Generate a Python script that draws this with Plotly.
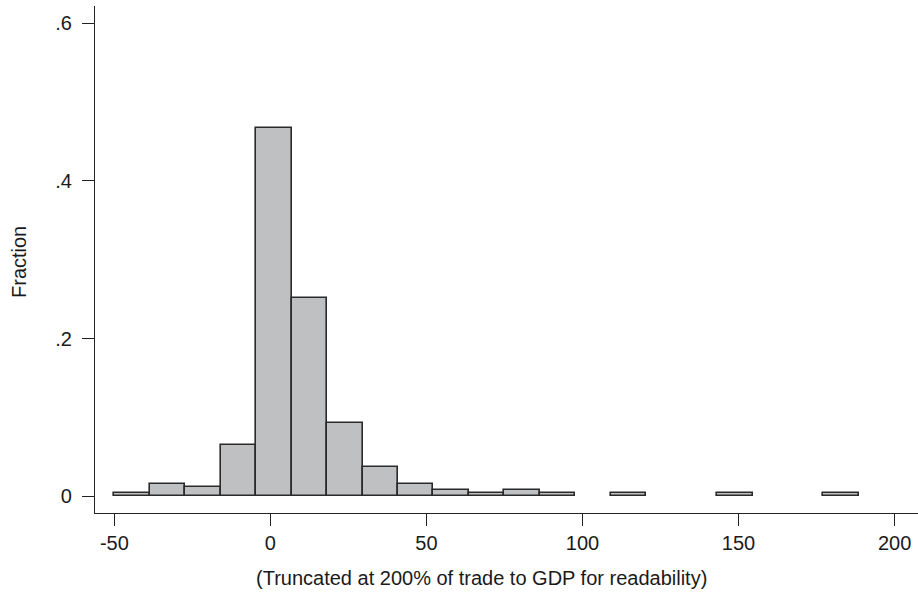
import plotly.graph_objects as go

# Histogram data (fraction per bin)
bin_start = -50.0
bin_width = 11.36
fractions = [0.004, 0.016, 0.012, 0.065, 0.467, 0.251, 0.093, 0.037, 0.016, 0.008,
             0.004, 0.008, 0.004, None, 0.004, None, None, 0.004, None, None, 0.004]

x_ticks = [-50, 0, 50, 100, 150, 200]
x_ticklabels = ["-50", "0", "50", "100", "150", "200"]
y_ticks = [0, 0.2, 0.4, 0.6]
y_ticklabels = ["0", ".2", ".4", ".6"]

x_title = "(Truncated at 200% of trade to GDP for readability)"
y_title = "Fraction"

centers = [bin_start + bin_width * (i + 0.5) for i in range(len(fractions))]

FONT = "Liberation Sans, Arial, Helvetica, sans-serif"
TXT = "#1a1a1a"
LINE = "#222222"

fig = go.Figure()
fig.add_trace(go.Bar(
    x=centers, y=fractions, width=bin_width,
    marker=dict(color="#bfc0c2", line=dict(color="#2a2a2a", width=1.6)),
    showlegend=False, hoverinfo="skip",
))

fig.update_layout(
    width=918, height=596,
    margin=dict(l=95, r=0, t=6, b=83),
    paper_bgcolor="white", plot_bgcolor="white",
    font=dict(family=FONT, size=20, color=TXT),
    bargap=0,
    xaxis=dict(
        range=[-56.2, 207.5], showgrid=False, zeroline=False,
        showline=True, linecolor=LINE, linewidth=1.3,
        ticks="outside", ticklen=12, tickwidth=1.3, tickcolor=LINE,
        tickvals=x_ticks, ticktext=x_ticklabels,
        tickfont=dict(family=FONT, size=20, color=TXT),
    ),
    yaxis=dict(
        range=[-0.0213, 0.622], showgrid=False, zeroline=False,
        showline=True, linecolor=LINE, linewidth=1.3,
        ticks="outside", ticklen=12, tickwidth=1.3, tickcolor=LINE,
        tickvals=y_ticks, ticktext=y_ticklabels,
        tickfont=dict(family=FONT, size=20, color=TXT),
        ticklabelstandoff=6,
    ),
    annotations=[
        dict(text=x_title, xref="paper", yref="paper", x=(481 - 95) / 823, y=-(578 - 513) / 507,
             showarrow=False, xanchor="center", yanchor="middle",
             font=dict(family=FONT, size=20, color=TXT)),
        dict(text=y_title, xref="paper", yref="paper", x=-(95 - 19) / 823, y=(513 - 262) / 507,
             showarrow=False, xanchor="center", yanchor="middle", textangle=-90,
             font=dict(family=FONT, size=20, color=TXT)),
    ],
)

fig.write_html("out.html")
